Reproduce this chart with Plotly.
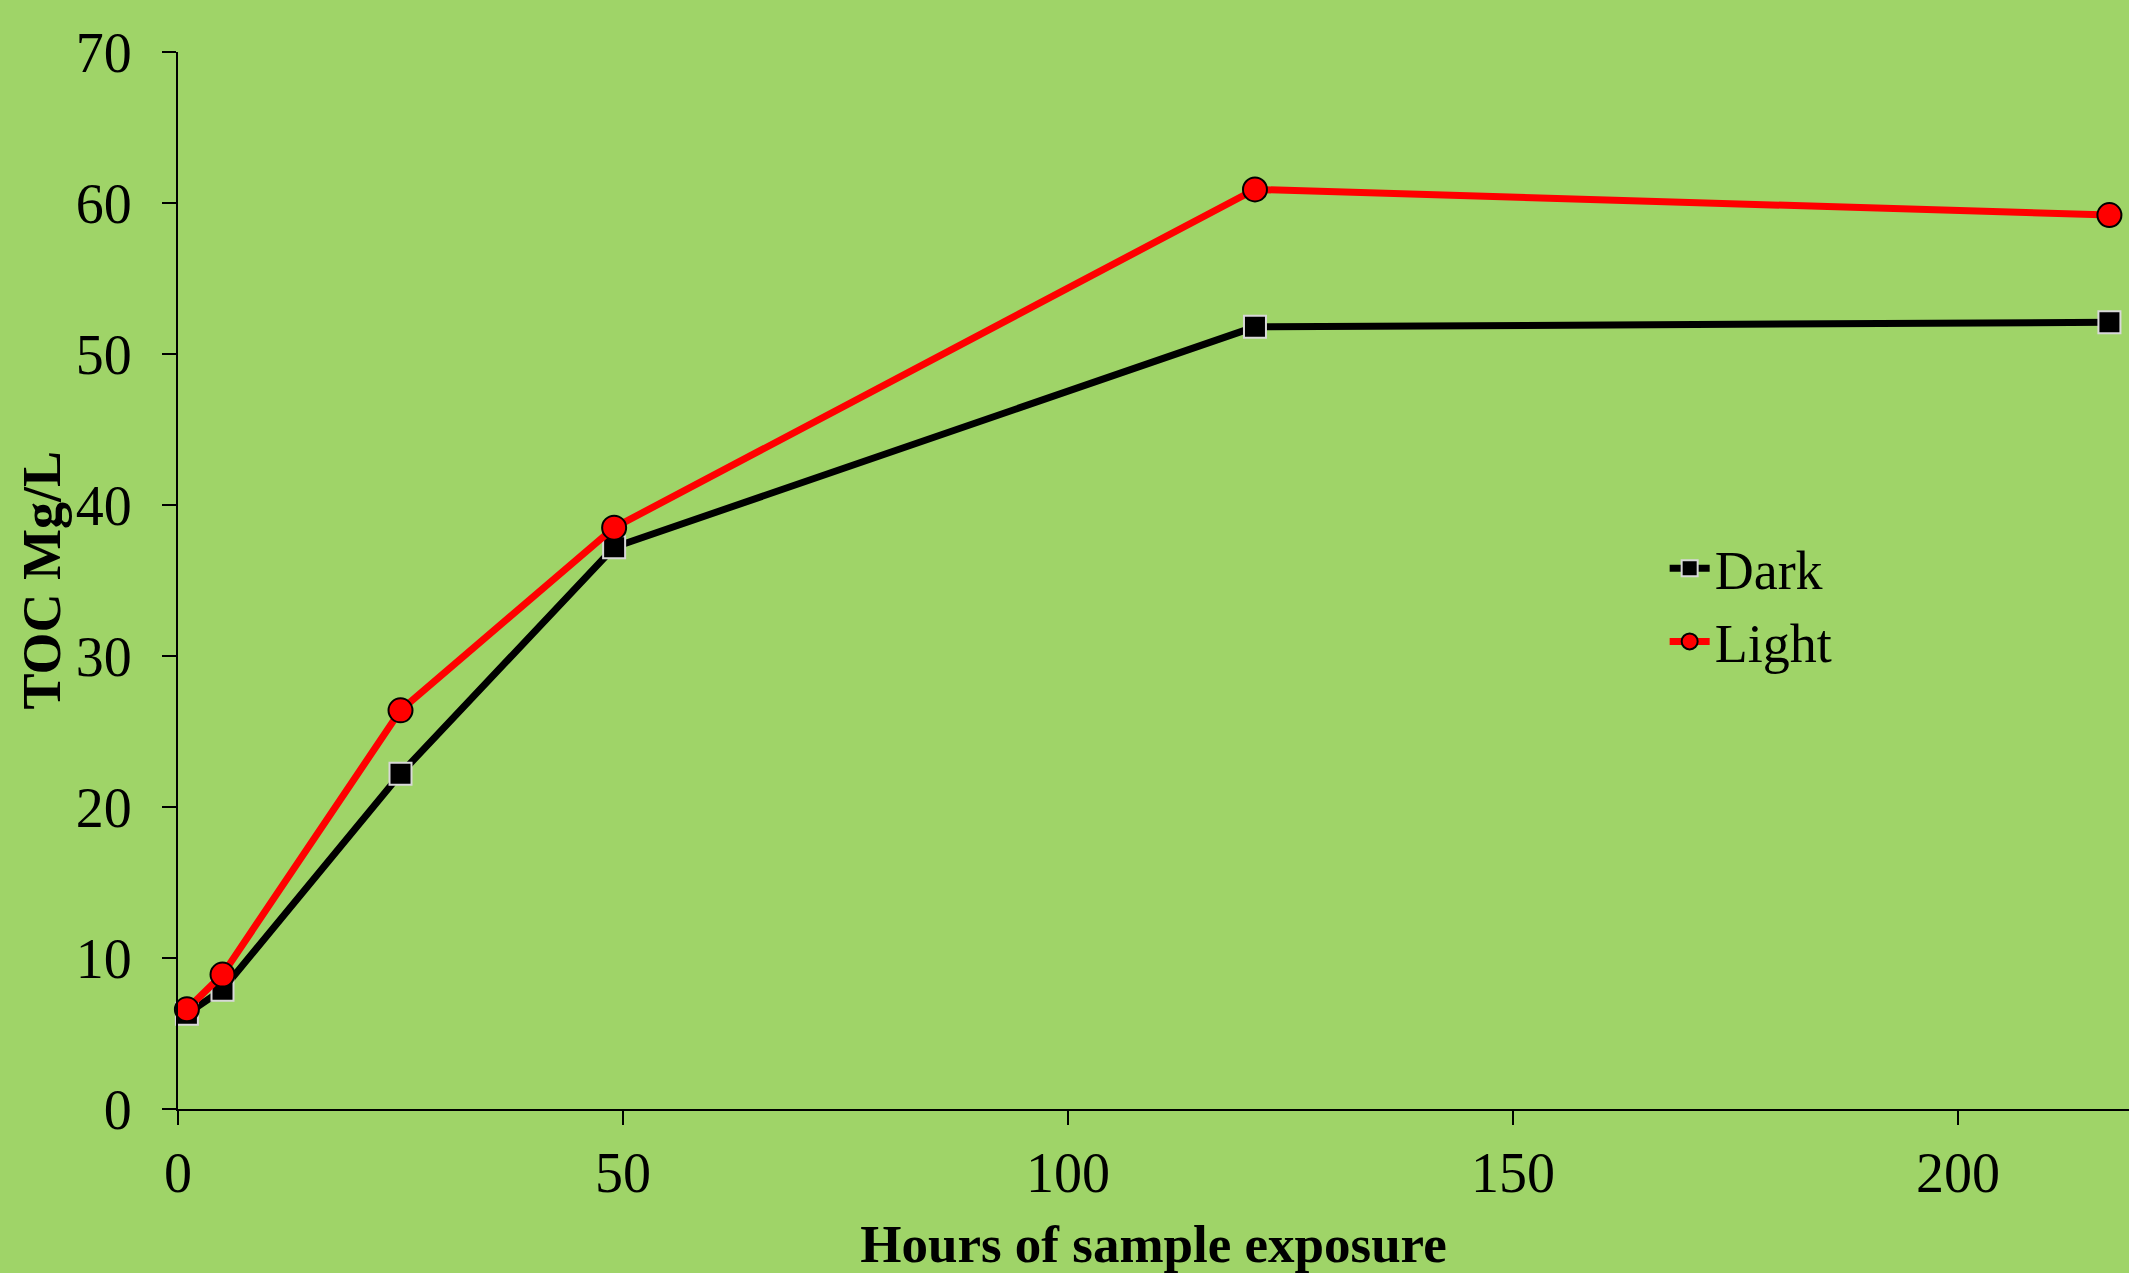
import plotly.graph_objects as go

hours = [1, 5, 25, 49, 121, 217]
dark = [6.3, 7.9, 22.2, 37.2, 51.8, 52.1]
light = [6.6, 8.9, 26.4, 38.5, 60.9, 59.2]

x_ticks = [0, 50, 100, 150, 200]
y_ticks = [0, 10, 20, 30, 40, 50, 60, 70]

BG = "#9fd468"
FONT = "Liberation Serif, Times New Roman, serif"

fig = go.Figure()
fig.add_trace(go.Scatter(
    x=hours, y=dark, name="Dark", mode="lines+markers",
    line=dict(color="black", width=7),
    marker=dict(symbol="square", size=22, color="black",
                line=dict(color="#d8d8d8", width=2)),
    cliponaxis=False,
))
fig.add_trace(go.Scatter(
    x=hours, y=light, name="Light", mode="lines+markers",
    line=dict(color="#ff0000", width=7),
    marker=dict(symbol="circle", size=24, color="#ff0000",
                line=dict(color="black", width=2)),
    cliponaxis=False,
))

fig.update_layout(
    width=2129, height=1273,
    paper_bgcolor=BG, plot_bgcolor=BG,
    margin=dict(l=178, r=0, t=52, b=158),
    font=dict(family=FONT, size=56, color="black"),
    showlegend=True,
    legend=dict(
        x=0.762, y=0.551, xanchor="left", yanchor="top",
        bgcolor="rgba(0,0,0,0)", font=dict(size=54, family=FONT),
        tracegroupgap=0, itemwidth=40,
    ),
    xaxis=dict(
        range=[0, 219.2], tickvals=x_ticks, ticktext=[str(v) for v in x_ticks],
        showgrid=False, zeroline=False, showline=True, linecolor="black", linewidth=2,
        ticks="outside", ticklen=14, tickwidth=2, tickcolor="black",
        ticklabelstandoff=0,
        tickfont=dict(size=56, family=FONT),
        title=dict(text="<b>Hours of sample exposure</b>", standoff=32,
                   font=dict(size=53, family=FONT)),
    ),
    yaxis=dict(
        range=[0, 70], tickvals=y_ticks, ticktext=[str(v) for v in y_ticks],
        showgrid=False, zeroline=False, showline=True, linecolor="black", linewidth=2,
        ticks="outside", ticklen=14, tickwidth=2, tickcolor="black",
        ticklabelstandoff=19,
        tickfont=dict(size=56, family=FONT),
    ),
    annotations=[dict(
        text="<b>TOC Mg/L</b>", xref="paper", yref="paper",
        x=(41 - 178) / 1951, y=0.5, xanchor="center", yanchor="middle",
        textangle=-90, showarrow=False, font=dict(size=54, family=FONT),
    )],
)

fig.write_html("out.html", config={"displayModeBar": False},
               post_script="document.body.style.margin='0';document.body.style.padding='0';")
